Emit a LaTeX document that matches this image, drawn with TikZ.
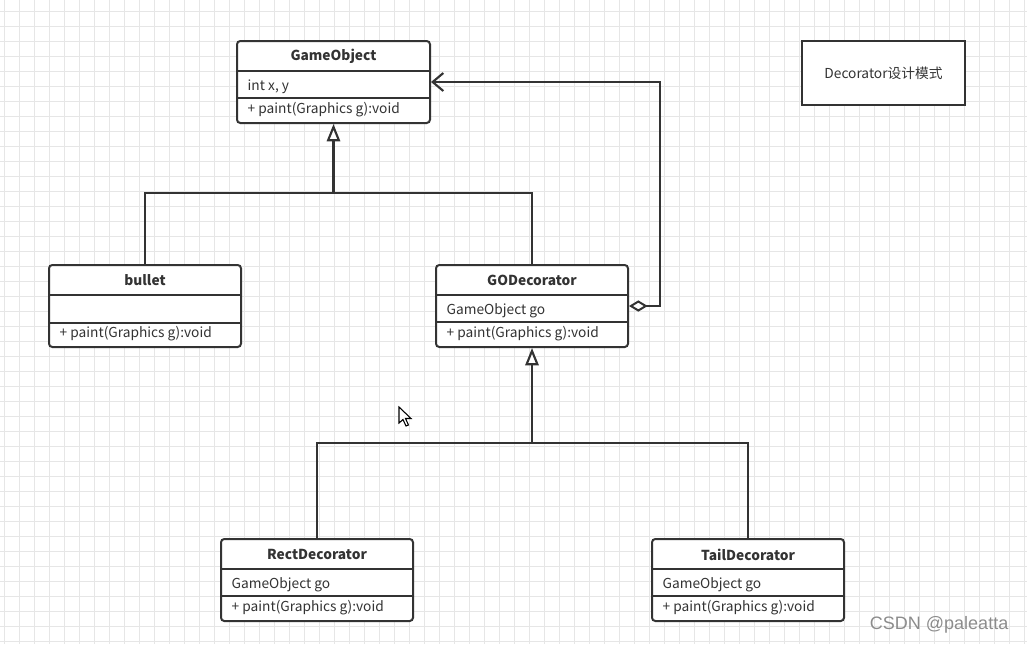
\documentclass[tikz,border=0pt]{standalone}
\usepackage{fontspec}
\setmainfont{Noto Sans CJK SC}
\newfontfamily\wmfont{Liberation Sans}
\usetikzlibrary{arrows.meta,fit}
\definecolor{ink}{HTML}{333333}
\definecolor{gridc}{HTML}{E6E6E6}
\tikzset{
  classbox/.style={draw=ink, line width=1.5pt, rounded corners=2.5pt, inner sep=0pt, fill=white},
  divider/.style={draw=ink, line width=1.5pt},
  ttl/.style={font=\fontsize{10.3}{12}\selectfont\bfseries, text=ink},
  mem/.style={font=\fontsize{10.3}{12}\selectfont, text=ink, anchor=west},
  conn/.style={draw=ink, line width=1.7pt},
  inherit/.style={conn, -{Triangle[open, length=13pt, width=10pt, line width=1.6pt, fill=white]}},
  aggr/.style={conn, {Diamond[open, length=14pt, width=8.5pt, line width=1.5pt, fill=white]}-{Straight Barb[length=8pt, width=13.5pt, line width=1.6pt]}},
}
\begin{document}
\begin{tikzpicture}[x=0.75pt, y=-0.75pt]
\useasboundingbox (0,0) rectangle (1027,644);
\fill[white] (0,0) rectangle (1027,644);
% grid
\foreach \gx in {4,19,...,1027} \draw[gridc, line width=0.6pt] (\gx,0) -- (\gx,644);
\foreach \gy in {11.7,26.7,...,644} \draw[gridc, line width=0.6pt] (0,\gy) -- (1027,\gy);

% GameObject
\node[classbox, fit={(237,41)(430,123)}] (go) {};
\draw[divider] (go.west |- 0,71) -- (go.east |- 0,71);
\draw[divider] (go.west |- 0,98) -- (go.east |- 0,98);
\node[ttl] (goT) at (333.5,56.5) {GameObject};
\node[mem] (goA) at (243,86.5) {int x, y};
\node[mem] (goM) at (243,109.5) {+ paint(Graphics g):void};

% bullet
\node[classbox, fit={(49,265)(241,347)}] (bu) {};
\draw[divider] (bu.west |- 0,295) -- (bu.east |- 0,295);
\draw[divider] (bu.west |- 0,323) -- (bu.east |- 0,323);
\node[ttl] (buT) at (145,280.5) {bullet};
\node[mem] (buM) at (55,333.5) {+ paint(Graphics g):void};

% GODecorator
\node[classbox, fit={(436,265)(628,347)}] (gd) {};
\draw[divider] (gd.west |- 0,295) -- (gd.east |- 0,295);
\draw[divider] (gd.west |- 0,322) -- (gd.east |- 0,322);
\node[ttl] (gdT) at (532,280.5) {GODecorator};
\node[mem] (gdA) at (442,310.5) {GameObject go};
\node[mem] (gdM) at (442,333.5) {+ paint(Graphics g):void};

% RectDecorator
\node[classbox, fit={(221,539)(413,621)}] (rd) {};
\draw[divider] (rd.west |- 0,569) -- (rd.east |- 0,569);
\draw[divider] (rd.west |- 0,596) -- (rd.east |- 0,596);
\node[ttl] (rdT) at (317,554.5) {RectDecorator};
\node[mem] (rdA) at (227,584.5) {GameObject go};
\node[mem] (rdM) at (227,607.5) {+ paint(Graphics g):void};

% TailDecorator
\node[classbox, fit={(652,539)(844,621)}] (td) {};
\draw[divider] (td.west |- 0,569) -- (td.east |- 0,569);
\draw[divider] (td.west |- 0,596) -- (td.east |- 0,596);
\node[ttl] (tdT) at (748,554.5) {TailDecorator};
\node[mem] (tdA) at (658,584.5) {GameObject go};
\node[mem] (tdM) at (658,607.5) {+ paint(Graphics g):void};

% note box
\node[draw=ink, line width=1.5pt, fill=white, inner sep=0pt, fit={(802,41)(965,105)}] (nb) {};
\node[font=\fontsize{10.3}{12}\selectfont, text=ink] (nbT) at (nb.center) {Decorator设计模式};

% connectors
\coordinate (j1) at (333.5,193);
\draw[conn] (bu.north) |- (j1);
\draw[conn] (gd.north) |- (j1);
\draw[inherit] (j1) -- (go.south);

\coordinate (j2) at (532,443);
\draw[conn] (rd.north) |- (j2);
\draw[conn] (td.north) |- (j2);
\draw[inherit] (j2) -- (gd.south);

\draw[aggr] (gd.east) -- ++(31,0) |- (go.east);

% mouse cursor
\draw[black, line width=0.8pt, fill=white, line join=miter]
  (399,407) -- (399,423) -- (403,419.5) -- (406,426) -- (408.5,425) -- (405.5,418.5) -- (411,418.5) -- cycle;

% watermark
\node[font=\wmfont\fontsize{13.5}{15}\selectfont, text=black!45, anchor=east] (wm) at (1013,625) {CSDN @paleatta};
\end{tikzpicture}
\end{document}
